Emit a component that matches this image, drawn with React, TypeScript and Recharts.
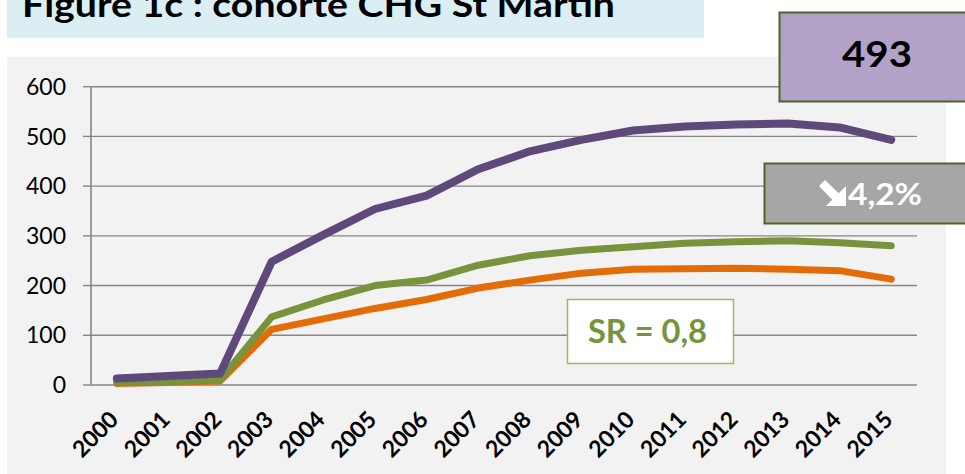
import React from "react";
import { LineChart, Line, XAxis, YAxis, CartesianGrid } from "recharts";

const years = [
  "2000", "2001", "2002", "2003", "2004", "2005", "2006", "2007",
  "2008", "2009", "2010", "2011", "2012", "2013", "2014", "2015",
];
const total = [13, 18, 23, 248, 302, 354, 381, 434, 470, 493, 512, 520, 524, 526, 518, 493];
const femmes = [5, 7, 10, 137, 171, 200, 211, 241, 260, 271, 278, 285, 288, 290, 286, 280];
const hommes = [3, 5, 8, 112, 133, 154, 172, 195, 211, 225, 233, 234, 235, 233, 230, 213];
const yTicks = [0, 100, 200, 300, 400, 500, 600];

const data = years.map((year, i) => ({
  idx: i,
  year,
  total: total[i],
  femmes: femmes[i],
  hommes: hommes[i],
}));

// tick marks sit on the category boundaries, labels on the centres
const boundaries = [...years.map((_, i) => i - 0.5), years.length - 0.5];
const centres = years.map((_, i) => i);

const GRID = "#868686";
const FONT = "Lato, 'Open Sans', sans-serif";

const YearTick = ({ x, y, payload }: any) => {
  const ax = x + 3;
  const ay = y + 36;
  return (
    <text
      x={ax}
      y={ay}
      textAnchor="end"
      transform={`rotate(-45, ${ax}, ${ay})`}
      fontFamily={FONT}
      fontWeight={700}
      fontSize={23}
      fill="#000"
    >
      {years[payload.value]}
    </text>
  );
};

export default function App() {
  return (
    <div
      style={{
        position: "absolute",
        left: 0,
        top: 0,
        width: 965,
        height: 474,
        overflow: "hidden",
        background: "#fff",
      }}
    >
      {/* grey chart panel */}
      <div
        style={{
          position: "absolute",
          left: 7,
          top: 57,
          width: 939,
          height: 417,
          background: "#f2f2f2",
        }}
      />
      <div style={{ position: "absolute", left: 0, top: 0 }}>
        <LineChart
          width={965}
          height={474}
          data={data}
          margin={{ top: 86.7, right: 48, bottom: 0, left: 0 }}
        >
          <CartesianGrid
            xAxisId="b"
            vertical={false}
            stroke={GRID}
            strokeWidth={1.4}
          />
          <XAxis
            xAxisId="b"
            type="number"
            dataKey="idx"
            domain={[-0.5, 15.5]}
            ticks={boundaries}
            interval={0}
            tick={false}
            tickSize={8}
            height={0}
            axisLine={{ stroke: GRID, strokeWidth: 1.6 }}
            tickLine={{ stroke: GRID, strokeWidth: 1.6 }}
          />
          <XAxis
            xAxisId="c"
            type="number"
            dataKey="idx"
            domain={[-0.5, 15.5]}
            ticks={centres}
            interval={0}
            tickSize={0}
            tickMargin={0}
            height={89}
            axisLine={false}
            tickLine={false}
            tick={<YearTick />}
          />
          <YAxis
            domain={[0, 600]}
            ticks={yTicks}
            interval={0}
            width={91}
            tickSize={8}
            tickMargin={17}
            axisLine={{ stroke: GRID, strokeWidth: 1.6 }}
            tickLine={{ stroke: GRID, strokeWidth: 1.4 }}
            tick={{ fontFamily: FONT, fontSize: 23, fill: "#000" }}
          />
          <Line
            xAxisId="b"
            dataKey="hommes"
            stroke="#e36c09"
            strokeWidth={7}
            strokeLinecap="round"
            strokeLinejoin="round"
            dot={false}
            isAnimationActive={false}
          />
          <Line
            xAxisId="b"
            dataKey="femmes"
            stroke="#77933c"
            strokeWidth={7}
            strokeLinecap="round"
            strokeLinejoin="round"
            dot={false}
            isAnimationActive={false}
          />
          <Line
            xAxisId="b"
            dataKey="total"
            stroke="#5f497a"
            strokeWidth={8}
            strokeLinecap="round"
            strokeLinejoin="round"
            dot={false}
            isAnimationActive={false}
          />
        </LineChart>
      </div>
      {/* title and annotation boxes */}
      <svg
        width={965}
        height={474}
        style={{ position: "absolute", left: 0, top: 0, pointerEvents: "none" }}
      >
        <rect x={7} y={0} width={697} height={38} fill="#daeef3" />
        <text
          x={22}
          y={16.5}
          fontFamily={FONT}
          fontWeight={700}
          fontSize={34}
          textLength={593}
          lengthAdjust="spacingAndGlyphs"
          fill="#000"
        >
          Figure 1c : cohorte CHG St Martin
        </text>

        <rect x={779.5} y={12.5} width={200} height={89} fill="#b3a2c7" stroke="#4f6228" strokeWidth={2} />
        <text
          x={842}
          y={67}
          fontFamily={FONT}
          fontWeight={700}
          fontSize={36}
          textLength={70}
          lengthAdjust="spacingAndGlyphs"
          fill="#000"
        >
          493
        </text>

        <rect x={764.5} y={163.5} width={220} height={60} fill="#a6a6a6" stroke="#4f6228" strokeWidth={2} />
        <g transform="translate(819, 180)" fill="#fff">
          <polygon points="6,0 19.7,13.3 27,6 27,26 7,26 13.3,19.7 0,6" />
        </g>
        <text
          x={848}
          y={205}
          fontFamily={FONT}
          fontWeight={700}
          fontSize={30}
          textLength={74}
          lengthAdjust="spacingAndGlyphs"
          fill="#fff"
        >
          4,2%
        </text>

        <rect x={567.5} y={299.5} width={166} height={64} fill="#fff" stroke="#9bbb59" strokeWidth={1.5} />
        <text
          x={588}
          y={343}
          fontFamily={FONT}
          fontWeight={700}
          fontSize={32}
          textLength={119}
          lengthAdjust="spacingAndGlyphs"
          fill="#77933c"
        >
          SR = 0,8
        </text>
      </svg>
    </div>
  );
}
